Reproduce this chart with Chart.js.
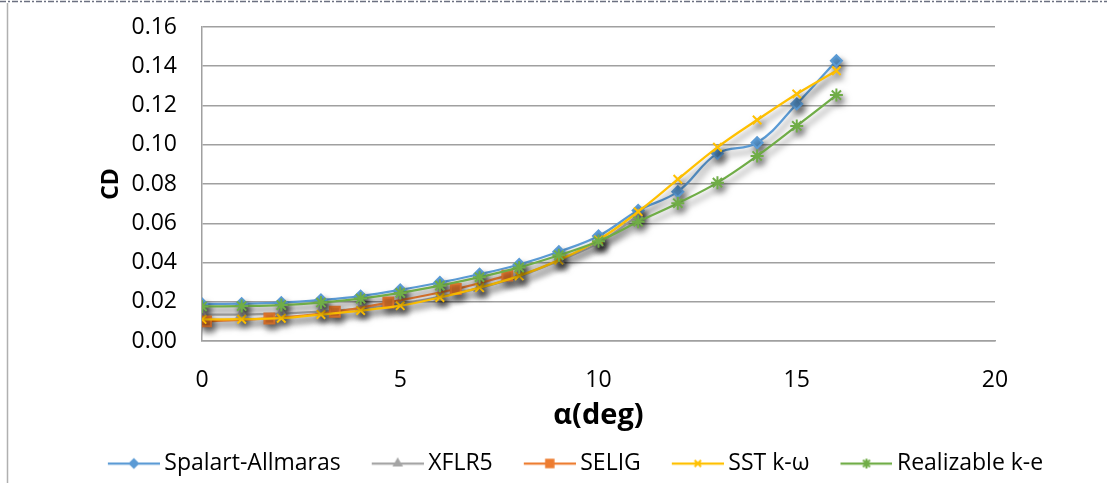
<!DOCTYPE html>
<html>
<head>
<meta charset="utf-8">
<script src="https://cdn.jsdelivr.net/npm/chart.js@4/dist/chart.umd.min.js"></script>
<style>
  html, body { margin: 0; padding: 0; background: #fff; }
  canvas { display: block; }
</style>
</head>
<body>
<canvas id="cdChart" width="1107" height="483"></canvas>
<script>
// Angle of attack (deg) for the CFD runs
const alphaDeg = [0, 1, 2, 3, 4, 5, 6, 7, 8, 9, 10, 11, 12, 13, 14, 15, 16];
// Drag coefficient, CFD turbulence models
const cdSpalart    = [0.0189, 0.0190, 0.0195, 0.0209, 0.0229, 0.0260, 0.0298, 0.0340, 0.0390, 0.0455, 0.0535, 0.0665, 0.0761, 0.0956, 0.1010, 0.1208, 0.1428];
const cdSstKw      = [0.0110, 0.0111, 0.0116, 0.0135, 0.0155, 0.0180, 0.0222, 0.0272, 0.0332, 0.0412, 0.0515, 0.0659, 0.0824, 0.0987, 0.1126, 0.1259, 0.1377];
const cdRealizable = [0.0176, 0.0178, 0.0183, 0.0196, 0.0216, 0.0245, 0.0282, 0.0325, 0.0375, 0.0437, 0.0508, 0.0608, 0.0702, 0.0807, 0.0943, 0.1096, 0.1253];
// XFLR5 panel-method polar
const alphaXflr5 = [0, 1, 2, 3, 4, 5, 6, 7, 8, 9, 10, 11];
const cdXflr5    = [0.0135, 0.0135, 0.0140, 0.0150, 0.0165, 0.0190, 0.0225, 0.0270, 0.0330, 0.0410, 0.0500, 0.0640];
// Selig wind-tunnel data
const alphaSelig = [0.1, 1.7, 3.35, 4.7, 6.4, 7.7];
const cdSelig    = [0.0100, 0.0115, 0.0149, 0.0196, 0.0265, 0.0333];
// Axis ticks
const xTicks = [0, 5, 10, 15, 20];
const yTicks = [0, 0.02, 0.04, 0.06, 0.08, 0.10, 0.12, 0.14, 0.16];

const FONT = "'Open Sans', 'DejaVu Sans', sans-serif";
const LABEL_SIZE = 23;
const LEGEND_PAD = 30;
const LEGEND_CENTER_X = 575;

const pts = (xs, ys) => xs.map((x, i) => ({ x: x, y: ys[i] }));

const seriesStyle = [
  { label: 'Spalart-Allmaras', color: '#5B9BD5', pointStyle: 'rectRot',  radius: 5.5 },
  { label: 'XFLR5',            color: '#A5A5A5', pointStyle: 'triangle', radius: 5.5 },
  { label: 'SELIG',            color: '#ED7D31', pointStyle: 'rect',     radius: 7 },
  { label: 'SST k-ω',          color: '#FFC000', pointStyle: 'crossRot', radius: 6 },
  { label: 'Realizable k-e',   color: '#70AD47', pointStyle: 'star',     radius: 6.5 }
];
const seriesData = [
  pts(alphaDeg, cdSpalart),
  pts(alphaXflr5, cdXflr5),
  pts(alphaSelig, cdSelig),
  pts(alphaDeg, cdSstKw),
  pts(alphaDeg, cdRealizable)
];

// legend swatch: short line with the marker in its middle
function makeSwatch(s) {
  const c = document.createElement('canvas');
  c.width = 60; c.height = 16;
  const g = c.getContext('2d');
  g.strokeStyle = s.color; g.fillStyle = s.color; g.lineWidth = 2.25;
  g.beginPath(); g.moveTo(8, 8); g.lineTo(60, 8); g.stroke();
  g.lineWidth = 2;
  Chart.helpers.drawPoint(g, { pointStyle: s.pointStyle, radius: s.radius * 0.75, rotation: 0, borderWidth: 2 }, 34, 8);
  return c;
}
const swatches = seriesStyle.map(makeSwatch);

const datasets = seriesStyle.map((s, i) => ({
  label: s.label,
  data: seriesData[i],
  borderColor: s.color,
  backgroundColor: s.color,
  pointBackgroundColor: s.color,
  pointBorderColor: s.color,
  pointStyle: s.pointStyle,
  pointRadius: s.radius,
  pointBorderWidth: 2,
  borderWidth: 2.25,
  tension: 0.4,
  fill: false,
  order: seriesStyle.length - 1 - i
}));

// soft drop shadow under every series
const dropShadow = {
  id: 'dropShadow',
  beforeDatasetDraw(chart) {
    const c = chart.ctx;
    c.save();
    c.shadowColor = 'rgba(0,0,0,0.5)';
    c.shadowBlur = 6;
    c.shadowOffsetX = 3;
    c.shadowOffsetY = 5;
  },
  afterDatasetDraw(chart) { chart.ctx.restore(); }
};

// outer frame: dashed top edge and a solid left edge
const outerFrame = {
  id: 'outerFrame',
  beforeDraw(chart) {
    const c = chart.ctx;
    c.save();
    c.strokeStyle = '#6b7080';
    c.lineWidth = 1.5;
    c.setLineDash([6, 2, 2, 2]);
    c.beginPath(); c.moveTo(0, 1.5); c.lineTo(chart.width, 1.5); c.stroke();
    c.setLineDash([]);
    c.strokeStyle = '#b0b0b0';
    c.beginPath(); c.moveTo(7.5, 3); c.lineTo(7.5, chart.height); c.stroke();
    c.restore();
  }
};

// center the legend row under the whole figure rather than the plot box
const legendPlacement = {
  id: 'legendPlacement',
  afterLayout(chart) {
    const L = chart.legend;
    if (!L || !L.lineWidths) return;
    const W = L.lineWidths[0];
    const start = (L.left + LEGEND_PAD + L.right - W) / 2;
    const want = LEGEND_CENTER_X - (W - LEGEND_PAD) / 2;
    const dx = want - start;
    L.left += dx; L.right += dx;
    L.top += 2; L.bottom += 2;
  }
};

const hidden = { display: false };

new Chart(document.getElementById('cdChart'), {
  type: 'line',
  data: { datasets: datasets },
  plugins: [dropShadow, outerFrame, legendPlacement],
  options: {
    responsive: false,
    animation: false,
    layout: { padding: { left: 8, right: 0, top: 27, bottom: 0 } },
    plugins: {
      tooltip: { enabled: false },
      legend: {
        position: 'bottom',
        labels: {
          usePointStyle: true,
          pointStyleWidth: 46,
          boxHeight: 12,
          padding: LEGEND_PAD,
          color: '#000',
          font: { family: FONT, size: LABEL_SIZE },
          sort: (a, b) => a.datasetIndex - b.datasetIndex,
          generateLabels(chart) {
            const items = Chart.defaults.plugins.legend.labels.generateLabels(chart);
            items.forEach(it => { it.pointStyle = swatches[it.datasetIndex]; });
            return items;
          }
        }
      }
    },
    scales: {
      x: {
        type: 'linear',
        min: 0, max: 20,
        afterBuildTicks: s => { s.ticks = xTicks.map(v => ({ value: v })); },
        afterFit: s => { s.height = 79; },
        grid: { display: false, drawTicks: false },
        border: { display: true, color: '#a0a0a0', width: 1.5 },
        ticks: { color: '#000', font: { family: FONT, size: LABEL_SIZE }, padding: 26, maxRotation: 0 },
        title: { display: true, text: 'α(deg)', color: '#000', font: { family: FONT, size: 29, weight: 'bold' }, padding: { top: 0, bottom: -13 } }
      },
      y: {
        type: 'linear',
        min: 0, max: 0.16,
        afterBuildTicks: s => { s.ticks = yTicks.map(v => ({ value: v })); },
        afterFit: s => { s.width = 194; },
        grid: { color: '#a0a0a0', lineWidth: 1.5, drawTicks: true, tickLength: 25, tickColor: 'rgba(0,0,0,0)' },
        border: { display: true, color: '#a0a0a0', width: 1.5 },
        ticks: { color: '#000', font: { family: FONT, size: LABEL_SIZE }, padding: 0, callback: v => v.toFixed(2) },
        title: { display: true, text: 'CD', color: '#000', font: { family: FONT, size: 23, weight: 'bold' }, padding: { top: 90, bottom: 0 } }
      },
      // empty right-hand gutter so the plot stops short of the figure edge
      gutter: {
        type: 'linear',
        position: 'right',
        display: true,
        grid: hidden,
        border: hidden,
        ticks: hidden,
        afterFit: s => { s.width = 112; }
      }
    }
  }
});
</script>
</body>
</html>
